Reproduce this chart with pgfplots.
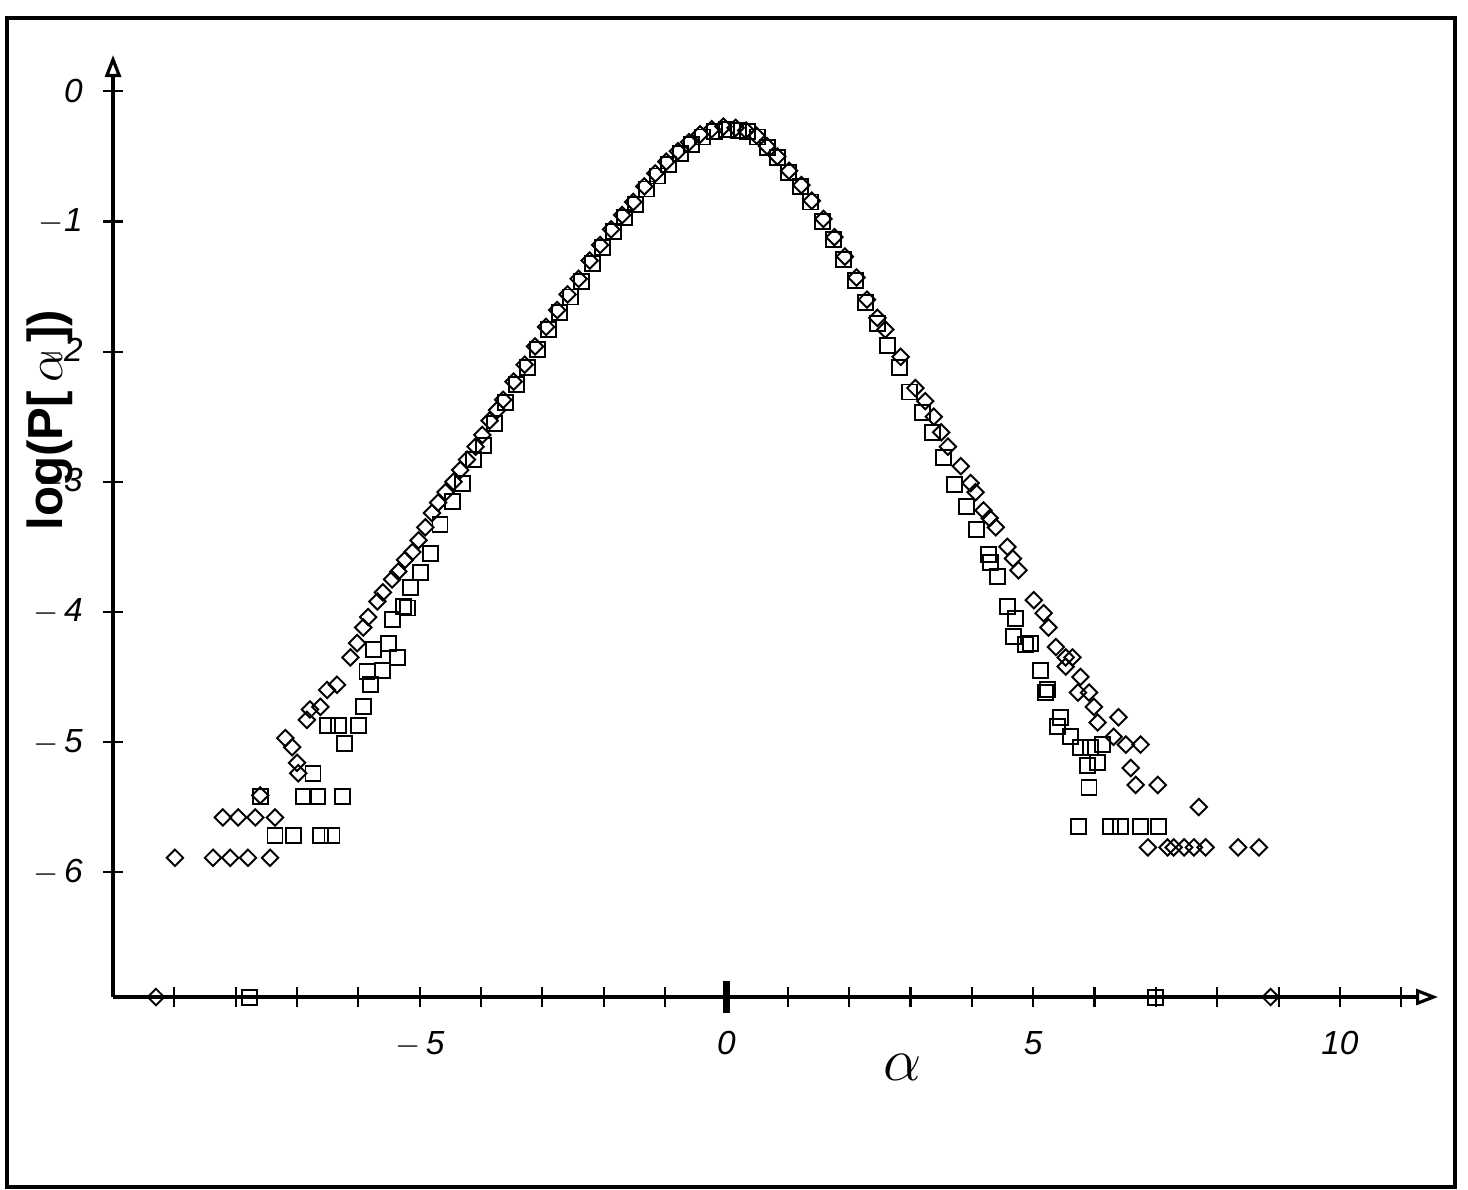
\documentclass[border=0pt]{standalone}
\usepackage{fontspec}
\setmainfont{Liberation Sans}
\usepackage{pgfplots}
\pgfplotsset{compat=1.18}
\usetikzlibrary{arrows.meta}

% squares series
\pgfplotstableread{
x y
-7.60 -5.42
-7.36 -5.72
-7.06 -5.72
-6.90 -5.42
-6.74 -5.24
-6.67 -5.42
-6.62 -5.72
-6.51 -4.87
-6.43 -5.72
-6.33 -4.87
-6.26 -5.42
-6.22 -5.01
-6.00 -4.87
-5.92 -4.73
-5.86 -4.46
-5.81 -4.56
-5.76 -4.29
-5.60 -4.45
-5.51 -4.24
-5.45 -4.06
-5.37 -4.35
-5.27 -3.96
-5.20 -3.97
-5.15 -3.81
-4.99 -3.70
-4.83 -3.55
-4.67 -3.33
-4.47 -3.15
-4.31 -3.01
-4.13 -2.83
-3.96 -2.72
-3.78 -2.55
-3.60 -2.39
-3.43 -2.25
-3.25 -2.12
-3.08 -1.98
-2.90 -1.83
-2.72 -1.70
-2.55 -1.58
-2.37 -1.46
-2.19 -1.32
-2.02 -1.20
-1.84 -1.08
-1.66 -0.97
-1.48 -0.87
-1.30 -0.75
-1.12 -0.65
-0.94 -0.56
-0.75 -0.48
-0.57 -0.41
-0.39 -0.35
-0.20 -0.31
0.00 -0.29
0.19 -0.30
0.34 -0.31
0.51 -0.35
0.67 -0.43
0.83 -0.51
1.01 -0.62
1.21 -0.73
1.37 -0.85
1.57 -1.00
1.75 -1.14
1.91 -1.29
2.10 -1.45
2.27 -1.62
2.46 -1.78
2.63 -1.95
2.82 -2.12
2.99 -2.31
3.20 -2.47
3.36 -2.62
3.54 -2.81
3.72 -3.02
3.92 -3.19
4.08 -3.37
4.27 -3.56
4.31 -3.62
4.42 -3.73
4.58 -3.96
4.71 -4.05
4.68 -4.19
4.88 -4.25
4.96 -4.24
5.12 -4.45
5.24 -4.60
5.20 -4.62
5.45 -4.81
5.40 -4.88
5.61 -4.96
5.77 -5.04
5.94 -5.04
6.13 -5.02
6.05 -5.16
5.89 -5.18
5.91 -5.35
5.74 -5.65
6.26 -5.65
6.43 -5.65
6.75 -5.65
7.05 -5.65
}\squares

% diamonds series
\pgfplotstableread{
x y
-8.99 -5.89
-8.37 -5.89
-8.21 -5.58
-8.09 -5.89
-7.96 -5.58
-7.80 -5.89
-7.68 -5.58
-7.60 -5.41
-7.44 -5.89
-7.36 -5.58
-7.19 -4.97
-7.08 -5.04
-7.00 -5.16
-6.98 -5.24
-6.84 -4.83
-6.79 -4.75
-6.62 -4.73
-6.51 -4.60
-6.35 -4.56
-6.13 -4.35
-6.02 -4.24
-5.92 -4.12
-5.84 -4.04
-5.69 -3.92
-5.60 -3.85
-5.45 -3.75
-5.35 -3.69
-5.24 -3.60
-5.12 -3.54
-5.02 -3.45
-4.91 -3.35
-4.80 -3.24
-4.70 -3.16
-4.58 -3.08
-4.45 -3.00
-4.34 -2.91
-4.23 -2.83
-4.09 -2.73
-3.98 -2.64
-3.86 -2.53
-3.74 -2.45
-3.64 -2.37
-3.47 -2.23
-3.29 -2.10
-3.12 -1.96
-2.94 -1.81
-2.76 -1.68
-2.59 -1.56
-2.41 -1.44
-2.23 -1.30
-2.06 -1.18
-1.88 -1.06
-1.70 -0.95
-1.52 -0.85
-1.34 -0.73
-1.16 -0.63
-0.98 -0.54
-0.79 -0.46
-0.61 -0.39
-0.43 -0.33
-0.24 -0.29
-0.05 -0.27
0.15 -0.28
0.32 -0.30
0.49 -0.34
0.66 -0.42
0.83 -0.50
1.02 -0.61
1.22 -0.72
1.39 -0.84
1.58 -0.98
1.76 -1.12
1.93 -1.27
2.12 -1.43
2.29 -1.60
2.46 -1.74
2.59 -1.83
2.84 -2.04
3.08 -2.28
3.24 -2.38
3.38 -2.50
3.50 -2.62
3.61 -2.73
3.82 -2.88
3.98 -3.01
4.06 -3.08
4.19 -3.22
4.29 -3.28
4.39 -3.35
4.58 -3.50
4.67 -3.59
4.76 -3.68
5.01 -3.91
5.17 -4.01
5.25 -4.12
5.37 -4.27
5.53 -4.35
5.64 -4.35
5.53 -4.42
5.77 -4.50
5.73 -4.62
5.91 -4.62
5.99 -4.73
6.05 -4.85
6.39 -4.81
6.31 -4.96
6.51 -5.02
6.75 -5.02
6.59 -5.20
6.67 -5.33
7.03 -5.33
7.70 -5.50
6.87 -5.81
7.19 -5.81
7.29 -5.81
7.46 -5.81
7.62 -5.81
7.81 -5.81
8.34 -5.81
8.68 -5.81
}\diamonds

\begin{document}
\begin{tikzpicture}
\begin{axis}[scale only axis,width=132.5mm,height=94.2mm,
 xmin=-10,xmax=11.6,ymin=-6.96,ymax=0.28,
 axis x line=bottom,axis y line=left,clip=false,
 axis line style={line width=0.9pt,-{Triangle[open,length=2.2mm,width=1.6mm]}},
 xtick={-5,0,5,10},xticklabels={$-$\,5,0,5,10},
 minor xtick={-9,-8,...,11},
 ytick={-6,-5,-4,-3,-2,-1,0},
 yticklabels={$-$\,6,$-$\,5,$-$\,4,$-$3,$-$2,$-$1,0},
 tick align=center,major tick length=2mm,minor tick length=2mm,
 tick style={black,line width=0.6pt},
 extra x ticks={0},extra x tick labels={},
 extra x tick style={major tick length=3.2mm,major tick style={line width=2pt}},
 tick label style={font=\fontsize{9.5}{10}\selectfont\itshape},
 xticklabel style={yshift=-1.2mm},
 yticklabel style={xshift=-0.8mm},
]
\addplot[only marks,mark=square,mark size=0.75mm,mark options={line width=0.55pt,black}] table {\squares};
\addplot[only marks,mark=square,mark size=0.58mm,mark options={line width=0.55pt,black,rotate=45}] table {\diamonds};
% range markers on the x axis
\addplot[only marks,mark=square,mark size=0.75mm,mark options={line width=0.55pt,black}] coordinates {(-7.77,-6.96) (7.0,-6.96)};
\addplot[only marks,mark=square,mark size=0.58mm,mark options={line width=0.55pt,black,rotate=45}] coordinates {(-9.3,-6.96) (8.87,-6.96)};
\node[rotate=90,font=\fontsize{14}{14}\selectfont\bfseries] at (axis description cs:-0.0475,0.6125) {log(P[\,$\alpha$\,])};
\node[font=\fontsize{18}{18}\selectfont] at (axis description cs:0.596,-0.075) {$\alpha$};
\draw[line width=0.9pt] (axis description cs:-0.080,-0.2017) rectangle (axis description cs:1.0128,1.0393);
\path (axis description cs:-0.0853,-0.2038) (axis description cs:1.0226,1.0584);
\end{axis}
\end{tikzpicture}
\end{document}
